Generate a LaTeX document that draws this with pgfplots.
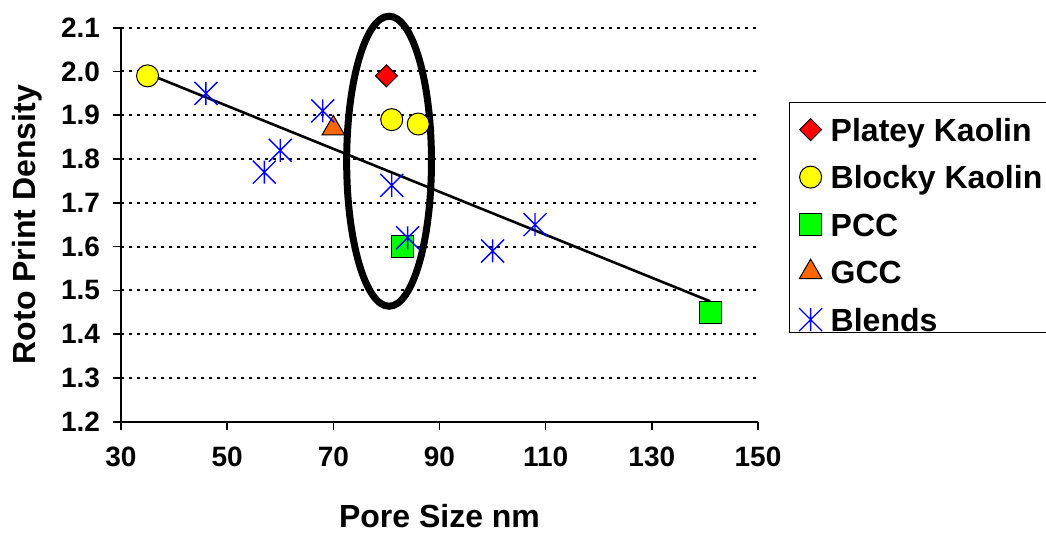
\documentclass[border=0pt]{standalone}
\usepackage{pgfplots}
\pgfplotsset{compat=1.18}
\usepackage{fontspec}
\setmainfont{Liberation Sans}
\definecolor{pkred}{RGB}{255,0,0}
\definecolor{bkyellow}{RGB}{255,255,0}
\definecolor{pccgreen}{RGB}{0,255,0}
\definecolor{gccorange}{RGB}{255,102,0}
\definecolor{blendblue}{RGB}{0,0,255}
\pgfdeclareplotmark{xstar}{%
  \pgfpathmoveto{\pgfqpoint{-\pgfplotmarksize}{-\pgfplotmarksize}}%
  \pgfpathlineto{\pgfqpoint{\pgfplotmarksize}{\pgfplotmarksize}}%
  \pgfpathmoveto{\pgfqpoint{-\pgfplotmarksize}{\pgfplotmarksize}}%
  \pgfpathlineto{\pgfqpoint{\pgfplotmarksize}{-\pgfplotmarksize}}%
  \pgfpathmoveto{\pgfqpoint{0pt}{-\pgfplotmarksize}}%
  \pgfpathlineto{\pgfqpoint{0pt}{\pgfplotmarksize}}%
  \pgfusepathqstroke}
\pgfdeclareplotmark{sqdiamond}{%
  \pgfpathmoveto{\pgfqpoint{0pt}{\pgfplotmarksize}}%
  \pgfpathlineto{\pgfqpoint{\pgfplotmarksize}{0pt}}%
  \pgfpathlineto{\pgfqpoint{0pt}{-\pgfplotmarksize}}%
  \pgfpathlineto{\pgfqpoint{-\pgfplotmarksize}{0pt}}%
  \pgfpathclose
  \pgfusepathqfillstroke}
\begin{document}
\begin{tikzpicture}
\begin{axis}[
  at={(0,0)}, anchor=south west,
  scale only axis,
  width=318.5pt, height=197pt,
  xmin=30, xmax=150, ymin=1.2, ymax=2.1,
  xtick={30,50,...,150},
  ytick={1.2,1.3,...,2.1},
  axis x line*=bottom, axis y line*=left,
  axis line style={-, line width=0.8pt, black},
  tick align=outside, major tick length=4pt,
  tick style={line width=0.8pt, black},
  ymajorgrids,
  major grid style={black, line width=1pt, dash pattern=on 1.5pt off 2.5pt},
  /pgf/number format/assume math mode=true,
  yticklabel style={/pgf/number format/fixed, /pgf/number format/precision=1, /pgf/number format/fixed zerofill},
  every tick label/.append style={font=\bfseries\fontsize{14}{16}\selectfont},
  xticklabel style={yshift=-5pt},
  yticklabel style={xshift=-3pt},
  xlabel={Pore Size nm},
  ylabel={Roto Print Density},
  xlabel style={font=\bfseries\fontsize{16}{19}\selectfont, at={(axis description cs:0.5,-0.239)}, anchor=center},
  ylabel style={font=\bfseries\fontsize{16}{19}\selectfont, at={(axis description cs:-0.1476,0.5)}, anchor=center, rotate=0},
  clip=false,
  legend style={at={(axis description cs:1.0487,0.8114)}, anchor=north west,
    draw=black, line width=0.6pt,
    font=\bfseries\fontsize{16}{19}\selectfont,
    inner xsep=4.75pt, inner ysep=0.75pt,
    row sep=5.25pt, column sep=4.3pt,
    nodes={inner sep=0pt, text height=18.5pt, text depth=0pt}},
  legend cell align=left,
  legend image code/.code={\draw[line width=0.5pt] plot coordinates {(0.3cm,-3.5pt)};},
]
\addplot[only marks, mark=sqdiamond, mark size=5.5pt, mark options={fill=pkred, draw=black, line width=0.5pt}]
  coordinates {(80,1.99)};
\addlegendentry{Platey Kaolin}
\addplot[only marks, mark=*, mark size=5.5pt, mark options={fill=bkyellow, draw=black, line width=0.5pt}]
  coordinates {(35,1.99) (81,1.89) (86,1.88)};
\addlegendentry{Blocky Kaolin\hspace*{8pt}}
\addplot[only marks, mark=square*, mark size=5.5pt, mark options={fill=pccgreen, draw=black, line width=0.5pt}]
  coordinates {(83,1.60) (141,1.45)};
\addlegendentry{PCC}
\addplot[only marks, mark=triangle*, mark size=6.5pt, mark options={fill=gccorange, draw=black, line width=0.5pt}]
  coordinates {(70,1.87)};
\addlegendentry{GCC}
\addplot[only marks, mark=xstar, mark size=5.75pt, mark options={draw=blendblue, line width=0.7pt}]
  coordinates {(46,1.95) (68,1.91) (60,1.82) (57,1.77) (81,1.74) (84,1.62) (100,1.59) (108,1.65)};
\addlegendentry{Blends}
\addplot[black, line width=1.3pt, no marks, forget plot]
  coordinates {(35,1.995) (141,1.475)};
\draw[black, line width=3.5pt] (axis cs:80.5,1.795) ellipse [x radius=21.2pt, y radius=72.5pt];
\end{axis}
\pgfresetboundingbox
\useasboundingbox (-60.5pt,-55.15pt) rectangle (462.5pt,210.85pt);
\end{tikzpicture}
\end{document}
